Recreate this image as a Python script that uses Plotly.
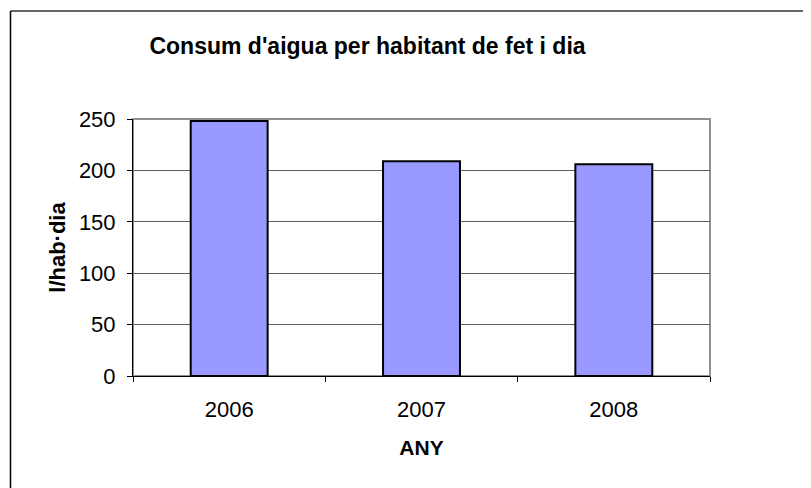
import plotly.graph_objects as go

years = ["2006", "2007", "2008"]
consum = [248, 209, 206]

fig = go.Figure(
    go.Bar(
        x=years,
        y=consum,
        width=0.4,
        marker=dict(color="#9999FF", line=dict(color="black", width=2)),
    )
)

font = "Arial, Liberation Sans, sans-serif"

# page puts the figure 8px in from the corner, so positions below are shifted by 8
W, H = 811, 488
L, T, PW, PH = 125, 111, 577, 257

fig.update_layout(
    width=W,
    height=H,
    margin=dict(l=L, r=W - L - PW, t=T, b=H - T - PH),
    paper_bgcolor="white",
    plot_bgcolor="white",
    showlegend=False,
    font=dict(family=font, size=22, color="black"),
    title=dict(
        text="<b>Consum d'aigua per habitant de fet i dia</b>",
        x=359.5 / W,
        xanchor="center",
        y=1 - 38 / H,
        yanchor="middle",
        font=dict(family=font, size=23, color="black"),
    ),
)

fig.update_xaxes(
    showline=True,
    linecolor="black",
    linewidth=1,
    ticks="outside",
    tickson="boundaries",
    ticklen=5,
    tickcolor="black",
    ticklabelstandoff=14,
    showgrid=False,
    title=dict(text="<b>ANY</b>", font=dict(size=21), standoff=18),
)

fig.update_yaxes(
    range=[0, 250],
    dtick=50,
    showline=True,
    linecolor="black",
    linewidth=1,
    ticks="outside",
    ticklen=5,
    tickcolor="black",
    ticklabelstandoff=7,
    showgrid=True,
    gridcolor="#606060",
    gridwidth=1,
    zeroline=False,
    title=dict(text="<b>l/hab·dia</b>", font=dict(size=22), standoff=7),
)

# gray frame around the plot area
fig.add_shape(type="rect", xref="paper", yref="paper", x0=0, x1=1, y0=0, y1=1,
              line=dict(color="#909090", width=2), layer="below")

# outer chart border (top and left edges, rest runs off the image)
top = (T + PH - 3) / PH
left = (2.5 - L) / PW
fig.add_shape(type="line", xref="paper", yref="paper", x0=left, x1=2, y0=top, y1=top,
              line=dict(color="#333333", width=1.5))
fig.add_shape(type="line", xref="paper", yref="paper", x0=left, x1=left, y0=top, y1=-2,
              line=dict(color="black", width=1.5))

fig.write_html("out.html")
